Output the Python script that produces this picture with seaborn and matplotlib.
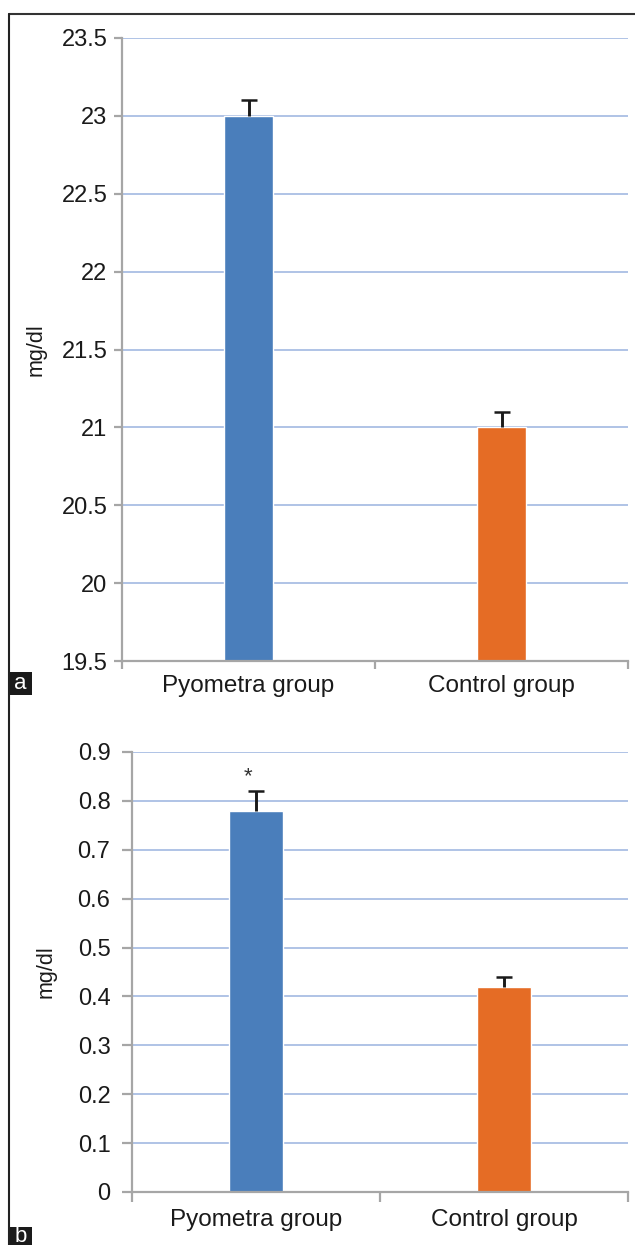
import matplotlib
matplotlib.use("Agg")
import matplotlib.pyplot as plt
import matplotlib.patches as mpatches
from matplotlib.ticker import FuncFormatter, MultipleLocator, FixedLocator
import seaborn as sns
import pandas as pd
import numpy as np

# ---- data ----
groups = ["Pyometra group", "Control group"]
panel_a_means = [23.0, 21.0]
panel_a_err = [0.1, 0.1]
panel_b_means = [0.78, 0.42]
panel_b_err = [0.04, 0.02]
bar_colors = ["#4a7ebb", "#e56c25"]

sns.set_theme(style="white")
plt.rcParams["font.family"] = ["Liberation Sans", "DejaVu Sans"]

W, H = 635, 1245
fig = plt.figure(figsize=(W / 100, H / 100), dpi=100)

axis_gray = "#a6a6a6"
grid_blue = "#afc3e6"
text_col = "#1a1a1a"


def fx(px):
    return px / W


def fy(py):
    return 1 - py / H


def draw_panel(ax, means, errs, ylim, step, width, tick_len, tick_pad, xpad):
    df = pd.DataFrame({"group": groups, "value": means})
    sns.barplot(data=df, x="group", y="value", hue="group", palette=bar_colors,
                errorbar=None, width=width, legend=False, ax=ax, saturation=1,
                zorder=2)
    xs = np.arange(len(means))
    m = np.asarray(means)
    e = np.asarray(errs)
    # upper-only error bars: stem plus a single cap at the top
    ax.errorbar(xs, m, yerr=[np.zeros(len(e)), e], fmt="none",
                ecolor=text_col, elinewidth=2.1, capsize=0, zorder=3)
    ax.plot(xs, m + e, linestyle="none", marker="_", markersize=11,
            markeredgewidth=1.8, color=text_col, zorder=3)
    ax.set_xlim(-0.5, len(means) - 0.5)
    ax.set_ylim(*ylim)
    ax.yaxis.set_major_locator(MultipleLocator(step))
    ax.yaxis.set_major_formatter(FuncFormatter(lambda v, p: f"{round(v, 3):g}"))
    ax.set_axisbelow(True)
    ax.grid(axis="y", color=grid_blue, linewidth=1.4, zorder=0)
    ax.grid(axis="x", visible=False)
    for s in ["top", "right"]:
        ax.spines[s].set_visible(False)
    for s in ["left", "bottom"]:
        ax.spines[s].set_color(axis_gray)
        ax.spines[s].set_linewidth(1.6)
    ax.tick_params(axis="y", which="major", direction="out", length=tick_len,
                   width=1.6, color=axis_gray, labelsize=17, pad=tick_pad,
                   labelcolor=text_col, left=True)
    ax.tick_params(axis="x", which="major", length=0, labelsize=17.5, pad=xpad,
                   labelcolor=text_col)
    ax.xaxis.set_minor_locator(FixedLocator([-0.5, 0.5, 1.5]))
    ax.tick_params(axis="x", which="minor", direction="out", length=tick_len,
                   width=1.6, color=axis_gray, bottom=True)
    ax.set_xlabel("")
    ax.set_ylabel("mg/dl", fontsize=15.5, color=text_col)
    ax.yaxis.label.set_va("center")


# panel a
ax_a = fig.add_axes([fx(122), fy(661), fx(628 - 122), (661 - 38) / H])
draw_panel(ax_a, panel_a_means, panel_a_err, (19.5, 23.5), 0.5, 0.19, 6, 4.5, 10)
ax_a.yaxis.set_label_coords((36 - 122) / (628 - 122), 0.5)

# panel b
ax_b = fig.add_axes([fx(132), fy(1192), fx(628 - 132), (1192 - 752) / H])
draw_panel(ax_b, panel_b_means, panel_b_err, (0, 0.9), 0.1, 0.22, 7, 8.5, 12)
ax_b.yaxis.set_label_coords((46 - 132) / (628 - 132), 0.5)
ax_b.text(-0.032, 0.838, "*", ha="center", va="baseline", fontsize=16,
          color="#333333")

# frame lines
fig.add_artist(plt.Line2D([fx(9), 1], [fy(14), fy(14)], color="#333333",
                          linewidth=1.5, transform=fig.transFigure))
fig.add_artist(plt.Line2D([fx(9), fx(9)], [fy(14), 0], color="#222222",
                          linewidth=1.5, transform=fig.transFigure))

# panel letters
for letter, top, bottom in [("a", 672, 695), ("b", 1227, 1245)]:
    fig.add_artist(mpatches.Rectangle((fx(9), fy(bottom)), fx(23),
                                      (bottom - top) / H, facecolor="#1a1a1a",
                                      edgecolor="none",
                                      transform=fig.transFigure))
    fig.text(fx(20.5), fy((top + bottom) / 2), letter, color="white",
             fontsize=16, ha="center", va="center")

fig.savefig("out.png", dpi=100)
